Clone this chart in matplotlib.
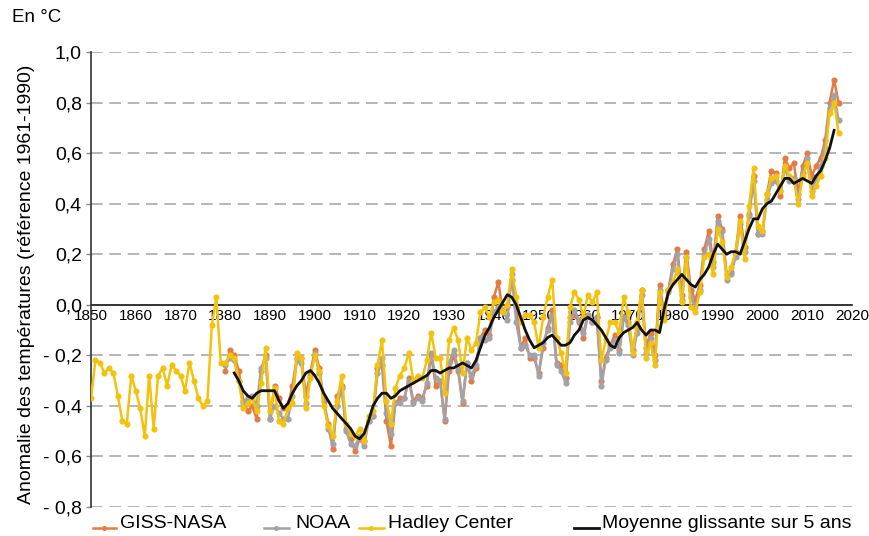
import matplotlib
matplotlib.use("Agg")
import matplotlib.pyplot as plt
from matplotlib.lines import Line2D

plt.rcParams['font.family'] = ['Liberation Sans', 'DejaVu Sans']

# ---------------- data (anomalies, reference 1961-1990, °C) ----------------
hadley_years = list(range(1850, 2018))
hadley = [
    -0.37, -0.22, -0.23, -0.27, -0.25, -0.27, -0.36, -0.46, -0.47, -0.28,   # 1850s
    -0.34, -0.41, -0.52, -0.28, -0.49, -0.28, -0.25, -0.32, -0.24, -0.26,   # 1860s
    -0.28, -0.34, -0.23, -0.30, -0.37, -0.40, -0.38, -0.08, 0.03, -0.23,    # 1870s
    -0.23, -0.20, -0.21, -0.30, -0.41, -0.39, -0.37, -0.42, -0.31, -0.17,   # 1880s
    -0.42, -0.33, -0.46, -0.47, -0.41, -0.39, -0.19, -0.21, -0.41, -0.29,   # 1890s
    -0.20, -0.26, -0.40, -0.48, -0.52, -0.38, -0.28, -0.47, -0.51, -0.52,   # 1900s
    -0.49, -0.54, -0.44, -0.42, -0.24, -0.14, -0.38, -0.47, -0.33, -0.28,   # 1910s
    -0.25, -0.19, -0.30, -0.28, -0.29, -0.22, -0.11, -0.21, -0.21, -0.35,   # 1920s
    -0.14, -0.09, -0.14, -0.27, -0.13, -0.18, -0.15, -0.03, -0.01, -0.05,   # 1930s
    0.01, 0.02, -0.03, 0.00, 0.14, 0.03, -0.07, -0.04, -0.04, -0.07,        # 1940s
    -0.17, -0.05, 0.03, 0.10, -0.13, -0.19, -0.27, -0.01, 0.05, 0.02,       # 1950s
    -0.05, 0.04, 0.01, 0.05, -0.22, -0.14, -0.07, -0.07, -0.11, 0.03,       # 1960s
    -0.03, -0.19, -0.07, 0.06, -0.21, -0.15, -0.24, 0.05, -0.06, 0.06,      # 1970s
    0.09, 0.14, 0.01, 0.19, -0.01, -0.03, 0.05, 0.19, 0.20, 0.12,           # 1980s
    0.30, 0.25, 0.11, 0.15, 0.21, 0.33, 0.18, 0.39, 0.54, 0.31,             # 1990s
    0.29, 0.44, 0.50, 0.51, 0.45, 0.55, 0.51, 0.49, 0.40, 0.51,             # 2000s
    0.56, 0.43, 0.47, 0.51, 0.58, 0.76, 0.80, 0.68,                         # 2010s
]

giss_years = list(range(1880, 2018))
giss = [
    -0.26, -0.18, -0.20, -0.26, -0.38, -0.42, -0.40, -0.45, -0.26, -0.20,   # 1880s
    -0.45, -0.32, -0.37, -0.41, -0.40, -0.32, -0.21, -0.21, -0.36, -0.27,   # 1890s
    -0.18, -0.25, -0.38, -0.47, -0.57, -0.36, -0.32, -0.49, -0.53, -0.58,   # 1900s
    -0.53, -0.54, -0.46, -0.44, -0.25, -0.24, -0.46, -0.56, -0.39, -0.37,   # 1910s
    -0.37, -0.29, -0.38, -0.36, -0.37, -0.32, -0.20, -0.32, -0.30, -0.46,   # 1920s
    -0.26, -0.20, -0.26, -0.39, -0.23, -0.30, -0.25, -0.13, -0.10, -0.12,   # 1930s
    0.03, 0.09, -0.03, -0.01, 0.10, -0.01, -0.17, -0.13, -0.21, -0.21,      # 1940s
    -0.27, -0.17, -0.09, -0.02, -0.23, -0.24, -0.29, -0.05, -0.04, -0.07,   # 1950s
    -0.13, -0.04, -0.07, -0.05, -0.30, -0.21, -0.16, -0.12, -0.18, -0.05,   # 1960s
    -0.07, -0.18, -0.09, 0.06, -0.17, -0.11, -0.20, 0.08, -0.03, 0.06,      # 1970s
    0.16, 0.22, 0.04, 0.21, 0.06, 0.02, 0.08, 0.22, 0.29, 0.17,             # 1980s
    0.35, 0.30, 0.12, 0.13, 0.21, 0.35, 0.23, 0.36, 0.51, 0.28,             # 1990s
    0.29, 0.44, 0.53, 0.52, 0.43, 0.58, 0.54, 0.56, 0.44, 0.55,             # 2000s
    0.60, 0.51, 0.55, 0.58, 0.65, 0.80, 0.89, 0.80,                         # 2010s
]

noaa_years = list(range(1880, 2018))
noaa = [
    -0.24, -0.21, -0.22, -0.30, -0.39, -0.37, -0.36, -0.40, -0.25, -0.21,   # 1880s
    -0.45, -0.40, -0.43, -0.45, -0.45, -0.36, -0.22, -0.23, -0.39, -0.28,   # 1890s
    -0.19, -0.27, -0.37, -0.49, -0.55, -0.40, -0.33, -0.50, -0.55, -0.56,   # 1900s
    -0.52, -0.56, -0.46, -0.44, -0.27, -0.21, -0.43, -0.51, -0.39, -0.39,   # 1910s
    -0.37, -0.30, -0.39, -0.37, -0.38, -0.31, -0.19, -0.29, -0.30, -0.45,   # 1920s
    -0.23, -0.18, -0.25, -0.38, -0.23, -0.28, -0.24, -0.13, -0.14, -0.13,   # 1930s
    -0.03, -0.01, -0.02, -0.06, 0.12, -0.07, -0.17, -0.16, -0.20, -0.20,    # 1940s
    -0.28, -0.15, -0.10, -0.04, -0.24, -0.26, -0.31, -0.07, -0.02, -0.06,   # 1950s
    -0.11, -0.04, -0.07, -0.05, -0.32, -0.22, -0.17, -0.14, -0.19, -0.05,   # 1960s
    -0.08, -0.20, -0.11, 0.04, -0.19, -0.13, -0.22, 0.06, -0.05, 0.05,      # 1970s
    0.14, 0.20, 0.02, 0.19, 0.03, -0.01, 0.06, 0.20, 0.26, 0.15,            # 1980s
    0.33, 0.29, 0.10, 0.12, 0.19, 0.32, 0.21, 0.35, 0.49, 0.28,             # 1990s
    0.28, 0.42, 0.48, 0.49, 0.45, 0.54, 0.49, 0.50, 0.42, 0.52,             # 2000s
    0.58, 0.45, 0.50, 0.55, 0.62, 0.78, 0.83, 0.73,                         # 2010s
]

mean5_years = list(range(1882, 2017))
mean5 = [
    -0.27, -0.30, -0.34, -0.36, -0.37, -0.35, -0.34, -0.34,                 # 1882-1889
    -0.34, -0.34, -0.38, -0.41, -0.39, -0.35, -0.32, -0.30, -0.27, -0.26,   # 1890s
    -0.28, -0.31, -0.35, -0.38, -0.41, -0.43, -0.45, -0.47, -0.49, -0.52,   # 1900s
    -0.53, -0.51, -0.46, -0.40, -0.37, -0.35, -0.35, -0.37, -0.36, -0.34,   # 1910s
    -0.33, -0.32, -0.31, -0.30, -0.29, -0.28, -0.26, -0.26, -0.27, -0.26,   # 1920s
    -0.25, -0.25, -0.24, -0.23, -0.24, -0.25, -0.22, -0.17, -0.12, -0.09,   # 1930s
    -0.05, -0.02, 0.01, 0.04, 0.03, 0.00, -0.05, -0.10, -0.14, -0.17,       # 1940s
    -0.16, -0.15, -0.13, -0.12, -0.14, -0.16, -0.16, -0.15, -0.12, -0.10,   # 1950s
    -0.06, -0.05, -0.06, -0.08, -0.10, -0.13, -0.16, -0.17, -0.13, -0.11,   # 1960s
    -0.10, -0.09, -0.07, -0.10, -0.12, -0.10, -0.10, -0.11, -0.02, 0.05,    # 1970s
    0.08, 0.10, 0.12, 0.10, 0.08, 0.07, 0.10, 0.12, 0.15, 0.20,             # 1980s
    0.24, 0.22, 0.20, 0.21, 0.21, 0.20, 0.25, 0.30, 0.34, 0.34,             # 1990s
    0.38, 0.40, 0.41, 0.44, 0.47, 0.50, 0.50, 0.48, 0.49, 0.50,             # 2000s
    0.49, 0.48, 0.51, 0.53, 0.57, 0.62, 0.69,                               # 2010-2016
]

y_ticks = [1.0, 0.8, 0.6, 0.4, 0.2, 0.0, -0.2, -0.4, -0.6, -0.8]
y_tick_labels = ["1,0", "0,8", "0,6", "0,4", "0,2", "0,0",
                 "- 0,2", "- 0,4", "- 0,6", "- 0,8"]
x_ticks = list(range(1850, 2021, 10))
x_tick_labels = [str(v) for v in x_ticks]

series_labels = ["GISS-NASA", "NOAA", "Hadley Center", "Moyenne glissante sur 5 ans"]

# ---------------- style ----------------
C_GISS = "#E47B42"
C_NOAA = "#A3A2A8"
C_HAD = "#F3C20E"
C_MEAN = "#111111"

W, H = 870, 536
fig = plt.figure(figsize=(W / 100, H / 100), dpi=100)
ax = fig.add_axes([91 / W, 29 / H, 761 / W, 455 / H])

ax.set_xlim(1850, 2020)
ax.set_ylim(-0.8, 1.0)

# dashed horizontal grid (except 0)
for yv in y_ticks:
    if yv != 0.0:
        ax.axhline(yv, color="#A9A9A9", lw=1.2, ls=(0, (7, 4)), zorder=0)

ax.plot(giss_years, giss, color=C_GISS, lw=1.8, marker="o", ms=3.4, zorder=2)
ax.plot(noaa_years, noaa, color=C_NOAA, lw=1.8, marker="o", ms=3.4, zorder=3)
ax.plot(hadley_years, hadley, color=C_HAD, lw=1.8, marker="o", ms=3.4, zorder=4)
ax.plot(mean5_years, mean5, color=C_MEAN, lw=2.0, zorder=5)

# axes
for s in ["top", "right"]:
    ax.spines[s].set_visible(False)
ax.spines["bottom"].set_position(("data", 0))
ax.spines["bottom"].set_color("#111111")
ax.spines["bottom"].set_linewidth(1.2)
ax.spines["bottom"].set_zorder(1)
ax.spines["left"].set_color("#333333")
ax.spines["left"].set_linewidth(1.2)

ax.set_xticks(x_ticks)
ax.set_xticklabels(x_tick_labels, fontsize=11)
ax.tick_params(axis="x", length=0, pad=3)
ax.set_yticks(y_ticks)
ax.set_yticklabels(y_tick_labels, fontsize=14)
ax.tick_params(axis="y", length=3.6, width=1, color="#888888", pad=3)

fig.text(27 / W, 1 - 284 / H, "Anomalie des températures (référence 1961-1990)",
         fontsize=14, rotation=90, ha="center", va="center")
fig.text(12 / W, 1 - 17 / H, "En °C", fontsize=13.5, va="center", ha="left")

# legend (manual, in figure pixels)
leg_items = [
    (C_GISS, True, 93, 116, 120),
    (C_NOAA, True, 264, 289, 295),
    (C_HAD, True, 359, 384, 388),
    (C_MEAN, False, 574, 599, 602),
]
y_text = 1 - 523 / H
y_line = 1 - 528 / H
for (col, mk, x0, x1, xt), lab in zip(leg_items, series_labels):
    xm = (x0 + x1) / 2
    ln = Line2D([x0 / W, xm / W, x1 / W], [y_line] * 3, transform=fig.transFigure,
                color=col, lw=2.0 if not mk else 1.8,
                marker="o" if mk else None, ms=2.6, markevery=[1])
    fig.add_artist(ln)
    fig.text(xt / W, y_text, lab, fontsize=14, ha="left", va="center")

fig.savefig("out.png", dpi=100)
